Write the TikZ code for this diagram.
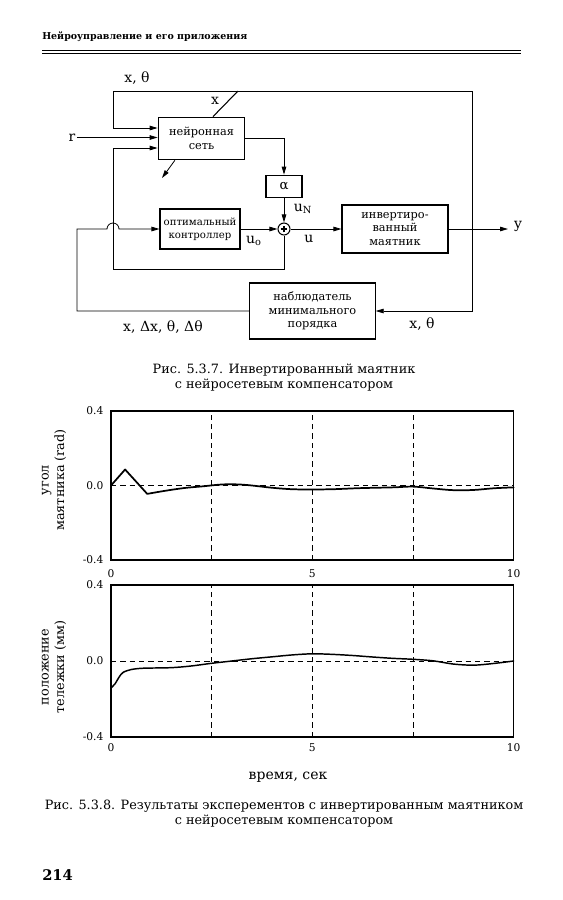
\documentclass[tikz,border=0pt]{standalone}
\usepackage{fontspec}
\setmainfont{DejaVu Serif}
\usetikzlibrary{arrows.meta}

\tikzset{
  blok/.style={draw, line width=0.8pt, align=center, inner sep=1pt,
    font=\fontsize{8.5}{10}\selectfont},
  lbl/.style={inner sep=1pt, font=\fontsize{10.5}{12}\selectfont},
  sig/.style={line width=0.6pt},
  arr/.style={sig, -{Triangle[length=6pt,width=3.4pt]}},
  gridln/.style={line width=0.6pt, dash pattern=on 4pt off 3pt},
  curve/.style={line width=1.3pt, line join=round, line cap=round},
  tick/.style={inner sep=1pt, font=\fontsize{8}{9}\selectfont},
  capt/.style={align=center, font=\fontsize{9.6}{11.4}\selectfont}
}

\begin{document}
\begin{tikzpicture}[x=0.75pt, y=-0.75pt]
    \useasboundingbox (0,0) rectangle (563,900);
    % header
    \node[anchor=base west, inner sep=0, font=\bfseries\fontsize{7.1}{9}\selectfont] (hdr) at (42,39) {Нейроуправление и его приложения};
    \draw[line width=0.9pt] (42,50.5) -- (521,50.5);
    \draw[line width=0.5pt] (42,53) -- (521,53);

    % blocks
    \node[blok, minimum width=65pt, minimum height=32pt] (nn) at (201.5,138.5) {нейронная\\сеть};
    \node[blok, minimum width=27pt, minimum height=17pt, font=\fontsize{10}{12}\selectfont] (alpha) at (284,186.5) {α};
    \node[blok, minimum width=60pt, minimum height=30pt, font=\fontsize{7.6}{9.5}\selectfont] (ctrl) at (200,229) {оптимальный\\контроллер};
    \node[draw, circle, minimum size=9pt, inner sep=0, line width=0.8pt] (sum) at (284,229) {};
    \draw[line width=0.8pt] ([xshift=-2.6pt]sum.center) -- ([xshift=2.6pt]sum.center)
                            ([yshift=-2.6pt]sum.center) -- ([yshift=2.6pt]sum.center);
    \node[blok, minimum width=79.5pt, minimum height=36pt] (pend) at (395,229) {инвертиро-\\ванный\\маятник};
    \node[blok, minimum width=94pt, minimum height=42pt] (obs) at (312.5,311) {наблюдатель\\минимального\\порядка};

    \coordinate (br) at (472,229);
    \coordinate (tl) at (113,91);
    \coordinate (yend) at (508,229);
    \coordinate (xtop) at (238,91);
    \coordinate (adapt) at (162,178);
    \coordinate (bl) at (113,269);
    \coordinate (ol) at (77,229);
    \coordinate (in1) at (113,128);
    \coordinate (in3) at (113,148);

    % labels
    \node[lbl] (lxth) at (137,78) {x, θ};
    \node[lbl] (lx) at (215,101) {x};
    \node[lbl] (rlab) at (72,137.5) {r};
    \node[lbl] (luN) at (303,209) {u\textsubscript{N}};
    \node[lbl] (luo) at (254,241) {u\textsubscript{o}};
    \node[lbl] (lu) at (309,239) {u};
    \node[lbl] (ly) at (518,226) {y};
    \node[lbl] (lobsin) at (422,324) {x, θ};
    \node[lbl] (lobsout) at (163,327) {x, Δx, θ, Δθ};

    % connectors
    \draw[arr] (pend.east) -- (yend);
    \draw[arr] (br) |- (tl) |- (nn.west |- in1);
    \draw[arr] (br) |- (obs.east);
    \draw[arr] (rlab) -- (rlab -| nn.west);
    \draw[arr] (sum.south) |- (bl) -- (in3) -- (in3 -| nn.west);
    \draw[arr] (obs.west) -| (ol) -- ([xshift=-4.5pt]ol -| bl)
        arc[start angle=180, end angle=0, radius=4.5pt] -- (ctrl.west);
    \draw[arr] (ctrl.east) -- (sum.west);
    \draw[arr] (nn.east) -| (alpha.north);
    \draw[arr] (alpha.south) -- (sum.north);
    \draw[arr] (sum.east) -- (pend.west);
    \draw[arr] ([xshift=-20pt]nn.south) -- (adapt);
    \draw[line width=0.8pt] ([xshift=8.6pt]nn.north) -- (xtop);

    \node[capt] (cap1) at (284,377.5) {Рис. 5.3.7. Инвертированный маятник\\с нейросетевым компенсатором};

    % angle plot
    \begin{scope}[shift={(111,485.5)}, x=30.2pt, y=139.7pt]
        \draw[line width=0.8pt] (0,-0.4) rectangle (10,0.4);
        \foreach \t in {2.5,5,7.5} \draw[gridln] (\t,-0.4) -- (\t,0.4);
        \draw[gridln] (0,0) -- (10,0);
        \draw[curve] (0,0) -- (0.35,0.086) -- (0.9,-0.045) -- plot[smooth, tension=0.6] coordinates {
            (0.9,-0.045) (1.3,-0.03) (1.8,-0.014) (2.3,-0.004) (2.8,0.006) (3.3,0.004)
            (4,-0.012) (4.5,-0.02) (5,-0.021) (5.5,-0.02) (6.2,-0.014) (7,-0.01)
            (7.5,-0.006) (8,-0.016) (8.5,-0.025) (9,-0.024) (9.5,-0.015) (10,-0.01)};
        \node[tick, anchor=east] at (-0.15,0.4) {0.4};
        \node[tick, anchor=east] at (-0.15,0) {0.0};
        \node[tick, anchor=east] at (-0.15,-0.4) {-0.4};
        \foreach \t in {0,5,10} \node[tick] at (\t,-0.475) {\t};
    \end{scope}
    \node[capt, rotate=90, font=\fontsize{9.6}{11.5}\selectfont] (ylab1) at (54,480) {угол\\маятника (rad)};

    % cart position plot
    \begin{scope}[shift={(111,661)}, x=30.2pt, y=142.5pt]
        \draw[line width=0.8pt] (0,-0.4) rectangle (10,0.4);
        \foreach \t in {2.5,5,7.5} \draw[gridln] (\t,-0.4) -- (\t,0.4);
        \draw[gridln] (0,0) -- (10,0);
        \draw[curve, line width=1.1pt] plot[smooth, tension=0.5] coordinates {
            (0,-0.142) (0.1,-0.12) (0.2,-0.085) (0.3,-0.06) (0.5,-0.045) (0.8,-0.038)
            (1.5,-0.035) (2,-0.026) (2.5,-0.012) (3,0) (3.5,0.012) (4,0.022)
            (4.5,0.032) (5,0.038) (5.5,0.035) (6,0.029) (6.5,0.021) (7,0.014)
            (7.5,0.009) (8,0.001) (8.5,-0.016) (9,-0.022) (9.5,-0.013) (10,0)};
        \node[tick, anchor=east] at (-0.15,0.4) {0.4};
        \node[tick, anchor=east] at (-0.15,0) {0.0};
        \node[tick, anchor=east] at (-0.15,-0.4) {-0.4};
        \foreach \t in {0,5,10} \node[tick] at (\t,-0.458) {\t};
    \end{scope}
    \node[capt, rotate=90, font=\fontsize{9.6}{11.5}\selectfont] (ylab2) at (54,667) {положение\\тележки (мм)};

    \node[lbl, font=\fontsize{10.5}{12}\selectfont] (tlab) at (288,777) {время, сек};
    \node[capt] (cap2) at (284,813.5) {Рис. 5.3.8. Результаты эксперементов с инвертированным маятником\\с нейросетевым компенсатором};
    \node[anchor=base west, inner sep=0, font=\bfseries\fontsize{11}{13}\selectfont] (pg) at (42,880) {214};
\end{tikzpicture}
\end{document}
